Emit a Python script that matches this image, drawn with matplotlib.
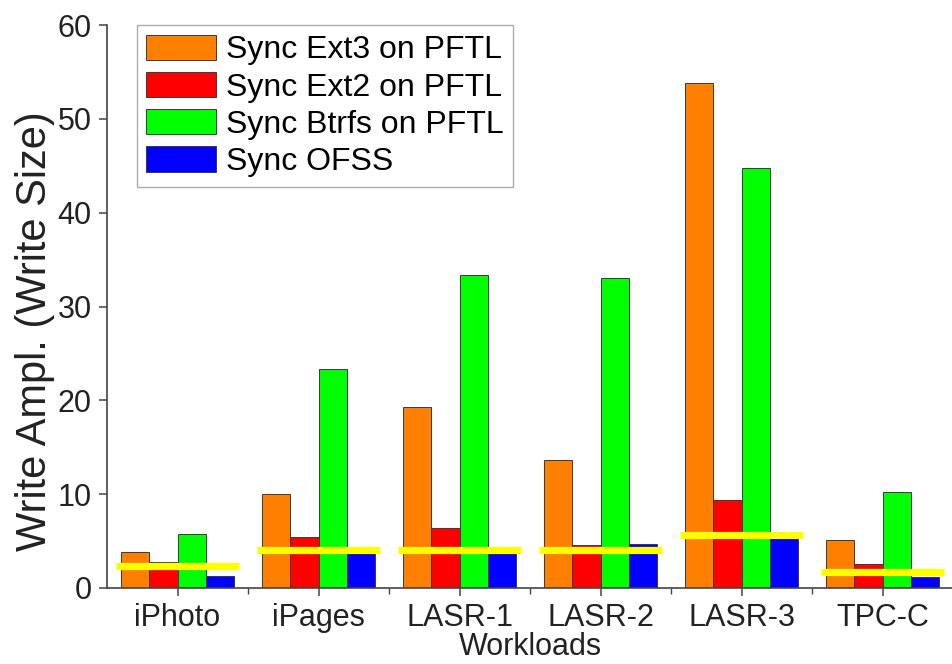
import numpy as np
import matplotlib
matplotlib.use("Agg")
import matplotlib.pyplot as plt
from matplotlib.ticker import FixedLocator

plt.rcParams['font.family'] = ['Liberation Sans', 'DejaVu Sans']

workloads = ['iPhoto', 'iPages', 'LASR-1', 'LASR-2', 'LASR-3', 'TPC-C']
series = ['Sync Ext3 on PFTL', 'Sync Ext2 on PFTL', 'Sync Btrfs on PFTL', 'Sync OFSS']
ext3 = [3.8, 10.0, 19.3, 13.6, 53.8, 5.1]
ext2 = [2.8, 5.4, 6.4, 4.6, 9.4, 2.6]
btrfs = [5.8, 23.3, 33.4, 33.0, 44.8, 10.2]
ofss = [1.3, 3.9, 3.8, 4.7, 5.3, 1.2]
marks = [2.3, 4.0, 4.0, 4.0, 5.6, 1.7]   # yellow overlay levels

colors = ['#ff8000', '#ff0000', '#00ff00', '#0000ff']

fig = plt.figure(figsize=(9.53, 6.64), dpi=100)
ax = fig.add_axes([0.1123, 0.1145, 0.8877, 0.8478])

x = np.arange(len(workloads))
w = 0.2
for i, (vals, c, lab) in enumerate(zip([ext3, ext2, btrfs, ofss], colors, series)):
    ax.bar(x + (i - 1.5) * w, vals, width=w, color=c, edgecolor='#3a3a3a',
           linewidth=0.7, label=lab, zorder=2)

ax.hlines(marks, x - 0.436, x + 0.436, color='#ffff00', linewidth=5.2, zorder=3)

ax.set_xlim(-0.5, len(workloads) - 0.5)
ax.set_ylim(0, 60)
ax.set_yticks(range(0, 61, 10))
ax.set_xticks(x)
ax.set_xticklabels(workloads)
ax.xaxis.set_minor_locator(FixedLocator(x[:-1] + 0.5))

for s in ['top', 'right']:
    ax.spines[s].set_visible(False)
for s in ['left', 'bottom']:
    ax.spines[s].set_color('#444444')
    ax.spines[s].set_linewidth(1.2)

ax.tick_params(axis='both', which='major', labelsize=22, direction='out',
               length=6, width=1.1, color='#444444', labelcolor='#222222', pad=5)
ax.tick_params(axis='x', which='minor', direction='out', length=4, width=1.0,
               color='#444444')

ax.set_ylabel('Write Ampl. (Write Size)', fontsize=30, color='#222222')
ax.yaxis.set_label_coords(-0.061, 0.456)
ax.set_xlabel('Workloads', fontsize=22, color='#222222', labelpad=-1)

leg = ax.legend(loc='upper left', bbox_to_anchor=(0.035, 1.0), fontsize=23,
                frameon=True, fancybox=False, edgecolor='#999999',
                handlelength=2.2, handleheight=0.85, handletextpad=0.3,
                labelspacing=0.2, borderpad=0.3, borderaxespad=0.0)
leg.get_frame().set_linewidth(1.0)

fig.savefig('out.png', dpi=100)
